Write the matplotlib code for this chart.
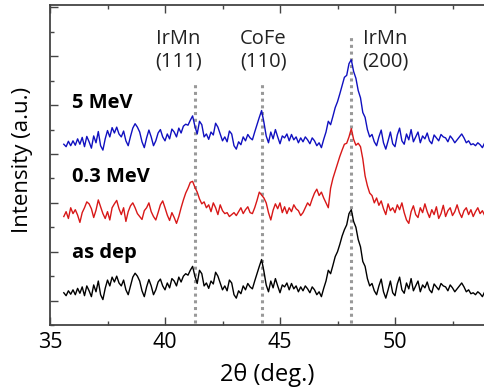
import numpy as np
import matplotlib.pyplot as plt
from matplotlib.ticker import MultipleLocator

# 2theta grid (deg), 0.1 step
two_theta = np.round(np.arange(35.6, 54.05, 0.1), 2)

# intensities (a.u.), before vertical offset
as_dep = [
    0.16, 0.10, 0.20, 0.13,
    0.22, 0.12, 0.25, 0.15, 0.28, 0.10, 0.30, 0.20, 0.08, 0.32,
    0.18, 0.40, 0.12, 0.02, 0.25, 0.42, 0.30, 0.48, 0.38, 0.50,
    0.36, 0.30, 0.42, 0.22, 0.12, 0.30, 0.48, 0.56, 0.50, 0.40,
    0.20, 0.08, 0.28, 0.43, 0.30, 0.12, 0.22, 0.38, 0.44, 0.30,
    0.22, 0.36, 0.26, 0.45, 0.40, 0.30, 0.48, 0.38, 0.50, 0.55,
    0.52, 0.62, 0.70, 0.50, 0.35, 0.62, 0.55, 0.30, 0.36, 0.25,
    0.40, 0.34, 0.58, 0.50, 0.36, 0.22, 0.30, 0.20, 0.42, 0.36,
    0.12, 0.05, 0.20, 0.14, 0.30, 0.22, 0.35, 0.28, 0.24, 0.40,
    0.55, 0.70, 0.84, 0.60, 0.32, 0.18, 0.40, 0.26, 0.45, 0.30,
    0.16, 0.32, 0.28, 0.36, 0.22, 0.35, 0.24, 0.30, 0.18, 0.28,
    0.20, 0.30, 0.24, 0.16, 0.28, 0.22, 0.12, 0.18, 0.08, 0.25,
    0.40, 0.62, 0.55, 0.72, 0.90, 1.00, 1.15, 1.32, 1.45, 1.55,
    1.78, 1.86, 1.62, 1.50, 1.25, 1.10, 0.80, 0.70, 0.45, 0.30,
    0.35, 0.20, 0.12, 0.30, 0.44, 0.18, 0.05, 0.22, 0.40, 0.16,
    0.10, 0.34, 0.48, 0.22, 0.15, 0.36, 0.24, 0.45, 0.20, 0.30,
    0.40, 0.18, 0.32, 0.26, 0.38, 0.22, 0.16, 0.34, 0.28, 0.22,
    0.35, 0.30, 0.28, 0.20, 0.32, 0.26, 0.18, 0.24, 0.30, 0.36,
    0.28, 0.18, 0.22, 0.14, 0.16, 0.12, 0.18, 0.14, 0.08, 0.18,
    0.16,
]
mev_03 = [
    0.12, 0.22, 0.08, 0.30,
    0.18, 0.26, 0.15, 0.00, 0.20, 0.30, 0.42, 0.38, 0.28, 0.10,
    0.25, 0.46, 0.32, 0.18, 0.08, 0.22, 0.05, 0.30, 0.38, 0.45,
    0.28, 0.16, 0.30, 0.02, 0.22, 0.34, 0.40, 0.30, 0.18, 0.12,
    0.06, 0.24, 0.30, 0.40, 0.22, 0.12, 0.05, 0.20, 0.36, 0.44,
    0.30, 0.15, 0.04, 0.20, 0.10, -0.02, 0.12, 0.30, 0.46, 0.60,
    0.70, 0.82, 0.84, 0.72, 0.62, 0.48, 0.38, 0.42, 0.30, 0.36,
    0.22, 0.40, 0.30, 0.16, 0.36, 0.24, 0.18, 0.20, 0.12, 0.16,
    0.20, 0.14, 0.22, 0.30, 0.18, 0.26, 0.32, 0.20, 0.18, 0.30,
    0.45, 0.62, 0.56, 0.50, 0.40, 0.20, 0.05, 0.25, 0.38, 0.28,
    0.40, 0.20, 0.32, 0.18, 0.30, 0.22, 0.36, 0.28, 0.24, 0.14,
    0.20, 0.30, 0.40, 0.34, 0.48, 0.60, 0.68, 0.55, 0.62, 0.50,
    0.40, 0.30, 0.70, 0.90, 1.05, 1.20, 1.35, 1.48, 1.60, 1.62,
    1.75, 1.92, 1.70, 1.58, 1.62, 1.55, 1.30, 0.95, 0.75, 0.60,
    0.55, 0.40, 0.50, 0.35, 0.44, 0.28, 0.16, 0.38, 0.24, 0.30,
    0.20, 0.36, 0.26, 0.40, 0.20, 0.05, -0.02, 0.22, 0.34, 0.16,
    0.10, 0.30, 0.20, 0.38, 0.22, 0.10, 0.26, 0.16, 0.32, 0.08,
    0.18, 0.35, 0.12, 0.24, 0.30, 0.14, 0.22, 0.36, 0.20, 0.10,
    0.24, 0.30, 0.16, 0.26, 0.12, 0.22, 0.30, 0.18, 0.24, 0.14,
    0.18,
]
mev_5 = [
    0.15, 0.10, 0.21, 0.12,
    0.22, 0.13, 0.26, 0.15, 0.29, 0.10, 0.31, 0.20, 0.07, 0.32,
    0.18, 0.41, 0.12, 0.03, 0.26, 0.43, 0.30, 0.49, 0.38, 0.50,
    0.36, 0.30, 0.42, 0.22, 0.12, 0.31, 0.48, 0.57, 0.50, 0.40,
    0.20, 0.08, 0.28, 0.44, 0.30, 0.12, 0.22, 0.38, 0.45, 0.30,
    0.22, 0.36, 0.26, 0.46, 0.40, 0.30, 0.48, 0.38, 0.52, 0.56,
    0.54, 0.64, 0.73, 0.52, 0.36, 0.62, 0.55, 0.30, 0.36, 0.25,
    0.40, 0.34, 0.58, 0.50, 0.36, 0.22, 0.30, 0.20, 0.42, 0.36,
    0.12, 0.05, 0.20, 0.14, 0.30, 0.22, 0.35, 0.28, 0.24, 0.40,
    0.55, 0.70, 0.84, 0.60, 0.32, 0.18, 0.40, 0.26, 0.45, 0.30,
    0.16, 0.32, 0.28, 0.36, 0.22, 0.35, 0.24, 0.30, 0.18, 0.28,
    0.20, 0.30, 0.24, 0.16, 0.28, 0.22, 0.12, 0.18, 0.08, 0.25,
    0.40, 0.62, 0.55, 0.72, 0.90, 1.02, 1.18, 1.35, 1.52, 1.56,
    1.80, 1.88, 1.64, 1.50, 1.25, 1.10, 0.80, 0.70, 0.45, 0.30,
    0.35, 0.20, 0.12, 0.30, 0.44, 0.18, 0.05, 0.22, 0.40, 0.16,
    0.10, 0.34, 0.48, 0.22, 0.15, 0.36, 0.24, 0.45, 0.20, 0.30,
    0.40, 0.18, 0.32, 0.26, 0.38, 0.22, 0.16, 0.34, 0.28, 0.22,
    0.35, 0.30, 0.28, 0.20, 0.32, 0.26, 0.18, 0.24, 0.30, 0.36,
    0.28, 0.18, 0.22, 0.14, 0.16, 0.12, 0.18, 0.14, 0.08, 0.18,
    0.16,
]

series_names = ["as dep", "0.3 MeV", "5 MeV"]
series_colors = ["black", "#d81818", "#1010c0"]
offsets = [0.0, 1.6, 3.05]

peak_pos = [41.3, 44.2, 48.1]
peak_names = ["IrMn\n(111)", "CoFe\n(110)", "IrMn\n(200)"]

x_ticks = [35, 40, 45, 50, 55]
x_ticklabels = ["35", "40", "45", "50", ""]  # 55 falls outside the crop

plt.rcParams["font.family"] = ["Open Sans", "DejaVu Sans"]

fig = plt.figure(figsize=(4.84, 3.92), dpi=100)
ax = fig.add_axes([50 / 484, 1 - 325 / 392, 460 / 484, 320 / 392])

# dotted guides at the peaks
line_tops = [4.43, 4.43, 5.45]
for xp, top in zip(peak_pos, line_tops):
    ax.plot([xp, xp], [-0.45, top], color="#999999", ls=(0, (1, 1.2)), lw=2.2, zorder=1)

for data, name, c, off in zip([as_dep, mev_03, mev_5], series_names, series_colors, offsets):
    ax.plot(two_theta, np.array(data) + off, color=c, lw=1.0, zorder=2)

label_y = [0.98, 2.53, 4.04]
for name, y in zip(series_names, label_y):
    ax.text(35.95, y, name, fontsize=14.5, fontweight="bold", ha="left", va="center")

label_x = [40.58, 44.27, 49.57]
for xp, txt in zip(label_x, peak_names):
    ax.text(xp, 5.12, txt, fontsize=14.5, ha="center", va="center",
            color="#222222", linespacing=1.15)

ax.set_xlim(35, 55)
ax.set_ylim(-0.5, 6.05)
ax.set_xticks(x_ticks, x_ticklabels)
ax.xaxis.set_minor_locator(MultipleLocator(2.5))
ax.yaxis.set_major_locator(MultipleLocator(1))
ax.yaxis.set_minor_locator(MultipleLocator(0.5))
ax.tick_params(which="both", direction="in", top=True, right=False,
               labelleft=False, color="#444444", width=1)
ax.tick_params(which="major", length=6, labelsize=15.5, pad=5)
ax.tick_params(which="minor", length=3)
for s in ax.spines.values():
    s.set_color("#444444")
    s.set_linewidth(1.3)

ax.set_xlabel("2θ (deg.)", fontsize=17, va="center")
ax.xaxis.set_label_coords((267 - 50) / 460, (325 - 375) / 320)
ax.set_ylabel("Intensity (a.u.)", fontsize=16, va="center")
ax.yaxis.set_label_coords((23 - 50) / 460, (325 - 160) / 320)

fig.savefig("out.png", dpi=100)
